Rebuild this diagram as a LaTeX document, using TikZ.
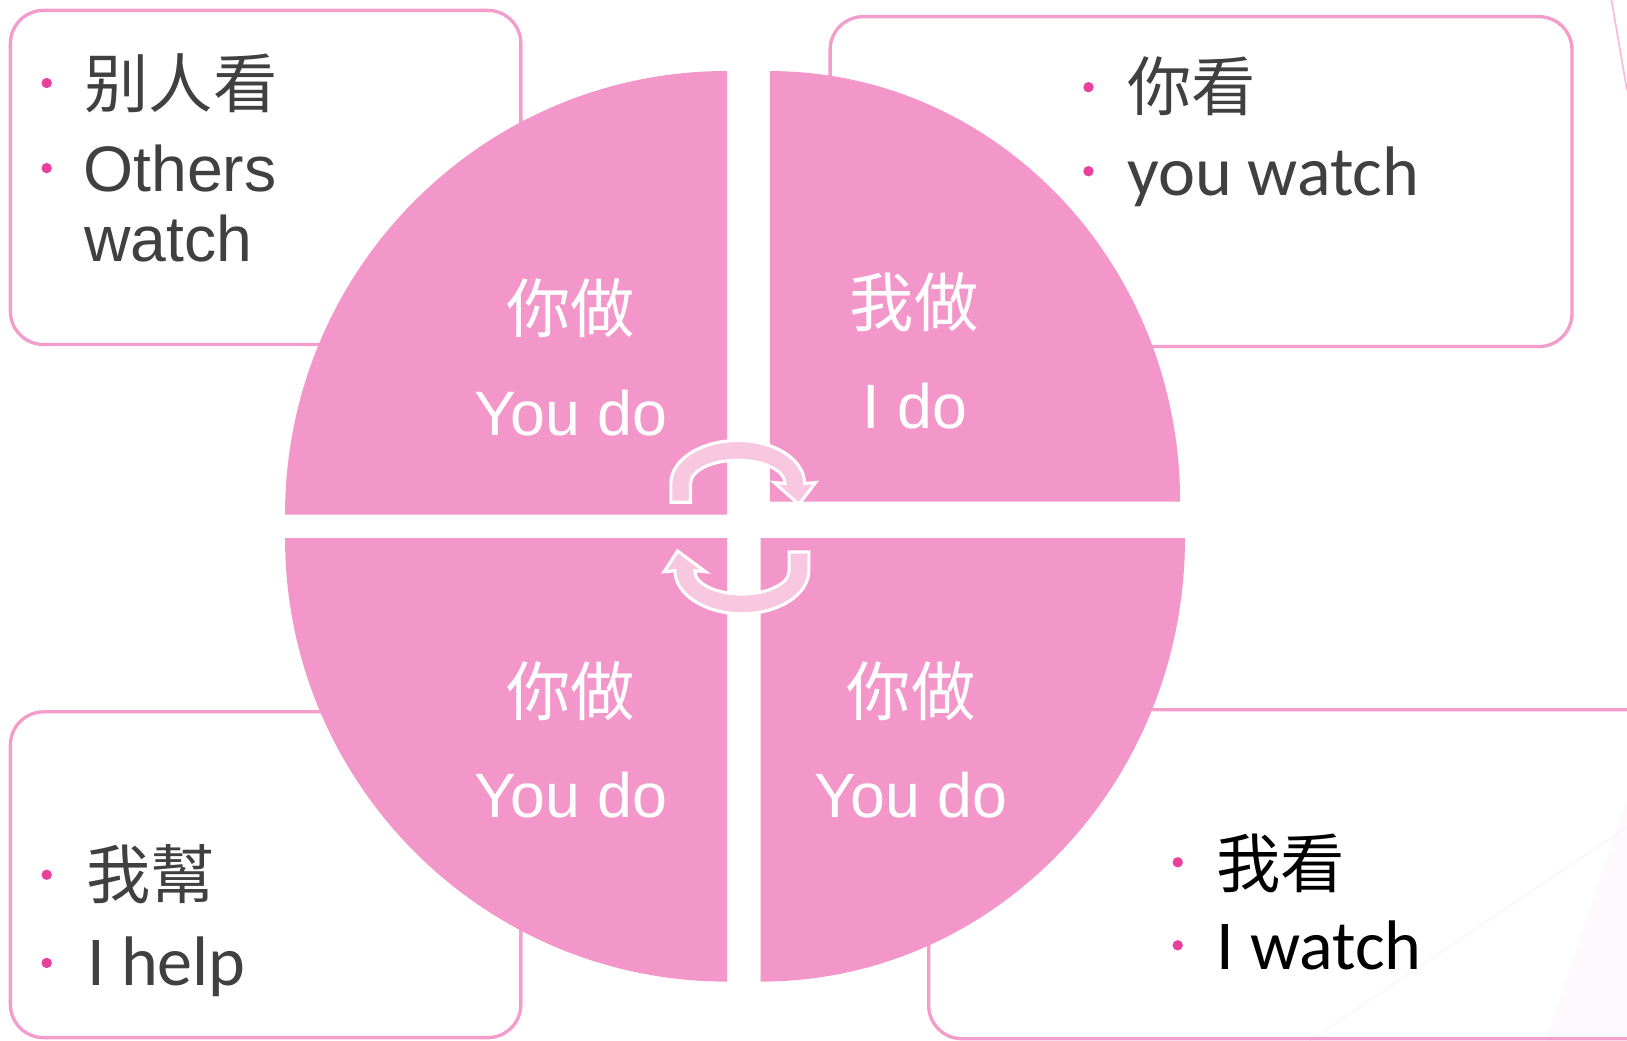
\documentclass[tikz,border=0pt]{standalone}
\usepackage{fontspec}
\setmainfont{Liberation Sans}
\newfontfamily\cjkfont{Noto Sans CJK TC}
\newfontfamily\carlfont{Carlito}
\definecolor{qpink}{HTML}{F396CA}
\definecolor{bpink}{HTML}{F49CCC}
\definecolor{dotpink}{HTML}{E8409C}
\definecolor{arrpink}{HTML}{F8C7E0}
\definecolor{txtgray}{HTML}{404040}
\begin{document}
\begin{tikzpicture}[x=0.5pt,y=-0.5pt,
  quadrant/.style={fill=qpink},
  card/.style={draw=bpink, line width=1.6pt, rounded corners=16pt},
  bul/.style={circle, fill=dotpink, inner sep=0pt, minimum size=5pt},
  cyc/.style={fill=arrpink, draw=white, line width=1.5pt, line join=miter},
  qcjk/.style={text=white, inner sep=0pt, font=\cjkfont\fontsize{31}{36}\selectfont},
  qlat/.style={text=white, inner sep=0pt, anchor=base, font=\fontsize{30.2}{36}\selectfont},
  bcjk/.style={text=txtgray, inner sep=0pt, anchor=west, font=\cjkfont\fontsize{31}{36}\selectfont},
  blat/.style={text=txtgray, inner sep=0pt, anchor=base west, font=\fontsize{31}{36}\selectfont},
  bcal/.style={text=txtgray, inner sep=0pt, anchor=base west, font=\carlfont\fontsize{33.8}{40}\selectfont}]
\useasboundingbox (0,0) rectangle (1568,1003);
\clip (0,0) rectangle (1568,1003);
\fill[white] (0,0) rectangle (1568,1003);
% faint background decoration
\fill[qpink!6] (1490,1003) -- (1568,770) -- (1568,1003) -- cycle;
\draw[qpink!12, line width=0.6pt] (1262,1003) -- (1568,797);
\draw[bpink!70, line width=0.8pt] (1553,0) -- (1568,87);
% cards
\draw[card] (10,10) rectangle (502,332);
\draw[card] (800,16) rectangle (1515,334);
\draw[card] (10,686) rectangle (502,1000);
\draw[card] (895,684) rectangle (1610,1001);
% quadrants
\fill[quadrant] (700.7,496) -- (274.7,496) arc[start angle=180, end angle=270, x radius=426, y radius=427.6] -- cycle;
\fill[quadrant] (742,483.5) -- (742,68.5) arc[start angle=270, end angle=360, x radius=395.3, y radius=415] -- cycle;
\fill[quadrant] (700.7,518.7) -- (274.7,518.7) arc[start angle=180, end angle=90, x radius=426, y radius=427.3] -- cycle;
\fill[quadrant] (733,518.7) -- (1142,518.7) arc[start angle=0, end angle=90, x radius=409, y radius=427.3] -- cycle;
% cycle arrows
\draw[cyc] (646.5,484) -- (646.5,466) arc[start angle=180, end angle=360, x radius=64.5, y radius=41.5] -- (786,465) -- (770,486) -- (746,465) -- (756.5,466) arc[start angle=360, end angle=180, x radius=45.5, y radius=22.5] -- (665.5,484) -- cycle;
\draw[cyc] (779.5,532) -- (779.5,550) arc[start angle=0, end angle=180, x radius=64.5, y radius=41.5] -- (640,551) -- (653,531) -- (680,551) -- (669.5,550) arc[start angle=180, end angle=0, x radius=45.5, y radius=22.5] -- (760.5,532) -- cycle;
% quadrant texts
\node[qcjk] (q1c) at (550,297) {你做};
\node[qlat] (q1e) at (550,420) {You do};
\node[qcjk] (q2c) at (881,291) {我做};
\node[qlat] (q2e) at (882,413) {I do};
\node[qcjk] (q3c) at (550,666) {你做};
\node[qlat] (q3e) at (550,788) {You do};
\node[qcjk] (q4c) at (878,666) {你做};
\node[qlat] (q4e) at (878,788) {You do};
% top-left card
\node[bul] (b11) at (45,80) {};
\node[bcjk] (t11) at (81,80) {别人看};
\node[bul] (b12) at (45,162) {};
\node[blat] (t12) at (80,185) {Others};
\node[blat] (t13) at (81,252) {watch};
% top-right card
\node[bul] (b21) at (1049,84) {};
\node[bcjk] (t21) at (1086,83) {你看};
\node[bul] (b22) at (1049,165) {};
\node[bcal] (t22) at (1086,188) {you watch};
% bottom-left card
\node[bul] (b31) at (45,843) {};
\node[bcjk] (t31) at (83,842) {我幫};
\node[bul] (b32) at (45,928) {};
\node[bcal] (t32) at (84,950) {I help};
% bottom-right card
\node[bul] (b41) at (1135,831) {};
\node[bcjk, text=black] (t41) at (1172,832) {我看};
\node[bul] (b42) at (1135,911) {};
\node[bcal, text=black] (t42) at (1172,934) {I watch};
\end{tikzpicture}
\end{document}
